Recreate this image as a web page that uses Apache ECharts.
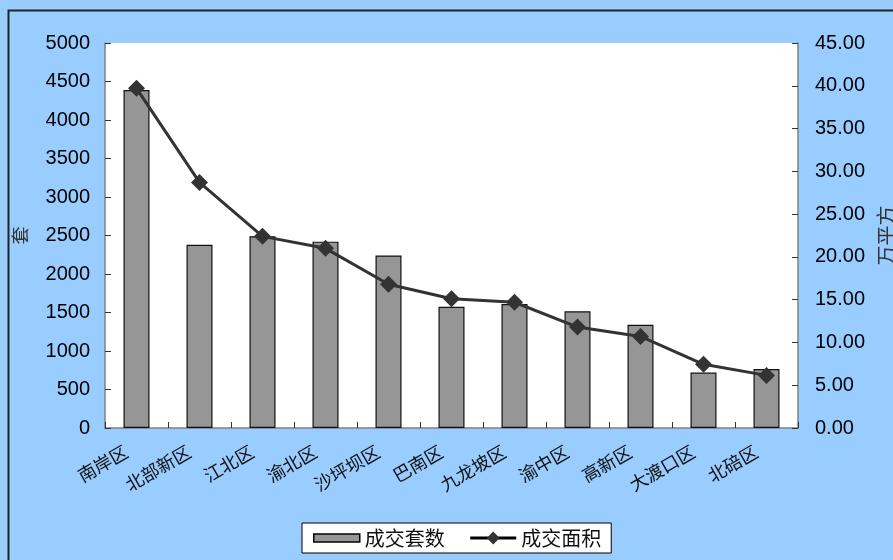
<!DOCTYPE html>
<html>
<head>
<meta charset="utf-8">
<script src="https://cdn.jsdelivr.net/npm/echarts@6/dist/echarts.min.js"></script>
<style>html,body{margin:0;padding:0;background:#99CCFF;}#c{width:893px;height:560px;}</style>
</head>
<body>
<div id="c"></div>
<script>
var categories = ['南岸区','北部新区','江北区','渝北区','沙坪坝区','巴南区','九龙坡区','渝中区','高新区','大渡口区','北碚区'];
var units = [4390, 2380, 2490, 2420, 2240, 1575, 1610, 1515, 1340, 720, 765];
var area = [39.7, 28.7, 22.4, 21.0, 16.8, 15.1, 14.7, 11.8, 10.7, 7.45, 6.15];
var leftTicks = [0, 5000, 500];
var rightTicks = [0, 45, 5];

var chart = echarts.init(document.getElementById('c'), null, {renderer: 'canvas'});
var cjk = '"Noto Sans CJK SC", sans-serif';
var num = '"Liberation Sans", Arial, sans-serif';
chart.setOption({
  backgroundColor: '#99CCFF',
  animation: false,
  graphic: [{
    type: 'rect', left: 6, top: 8, z: 100, silent: true,
    shape: {width: 950, height: 620},
    style: {fill: 'none', stroke: '#222', lineWidth: 2}
  }],
  grid: {left: 105, right: 95, top: 43, bottom: 132, show: true, backgroundColor: '#fff', borderWidth: 0, containLabel: false, outerBoundsMode: 'none'},
  legend: {
    left: 302, top: 523, width: 313,
    padding: [5, 10, 5, 11],
    itemGap: 24,
    itemWidth: 46, itemHeight: 16,
    symbolKeepAspect: true,
    backgroundColor: '#fff', borderColor: '#000', borderWidth: 1, borderRadius: 0,
    textStyle: {fontFamily: cjk, fontSize: 20, color: '#111'},
    data: [
      {name: '成交套数', icon: 'path://M0,0h46v8h-46z', itemStyle: {borderWidth: 1.5, borderColor: '#000'}},
      {name: '成交面积', lineStyle: {width: 3, color: '#000'}}
    ]
  },
  xAxis: {
    type: 'category', data: categories,
    axisLine: {lineStyle: {color: '#808080', width: 1.5}},
    axisTick: {show: true, inside: true, length: 6, alignWithLabel: false, lineStyle: {color: '#333'}},
    axisLabel: {rotate: 30, interval: 0, fontFamily: cjk, fontSize: 18, color: '#111', margin: 16, padding: [0, 12, 0, 0]}
  },
  yAxis: [{
    type: 'value', min: leftTicks[0], max: leftTicks[1], interval: leftTicks[2],
    name: '套', nameLocation: 'middle', nameRotate: 90, nameGap: 76,
    nameTextStyle: {fontFamily: cjk, fontSize: 18, color: '#333'},
    axisLine: {show: true, lineStyle: {color: '#808080', width: 1.5}},
    axisTick: {show: true, inside: true, length: 6, lineStyle: {color: '#333'}},
    splitLine: {show: false},
    axisLabel: {fontFamily: num, fontSize: 20, color: '#000', margin: 15, formatter: function(v){return String(v);}}
  }, {
    type: 'value', min: rightTicks[0], max: rightTicks[1], interval: rightTicks[2],
    name: '万平方', nameLocation: 'middle', nameRotate: 90, nameGap: 76,
    nameTextStyle: {fontFamily: cjk, fontSize: 20, color: '#333'},
    axisLine: {show: true, lineStyle: {color: '#808080', width: 1.5}},
    axisTick: {show: true, inside: true, length: 6, lineStyle: {color: '#333'}},
    splitLine: {show: false},
    axisLabel: {fontFamily: num, fontSize: 20, color: '#000', margin: 17, formatter: function(v){return v.toFixed(2);}}
  }],
  series: [{
    name: '成交套数', type: 'bar', data: units, barWidth: 26,
    itemStyle: {color: '#969696', borderColor: '#111', borderWidth: 1.2}
  }, {
    name: '成交面积', type: 'line', yAxisIndex: 1, data: area,
    symbol: 'diamond', symbolSize: 17,
    lineStyle: {color: '#333', width: 3},
    itemStyle: {color: '#333'}
  }]
});
</script>
</body>
</html>
